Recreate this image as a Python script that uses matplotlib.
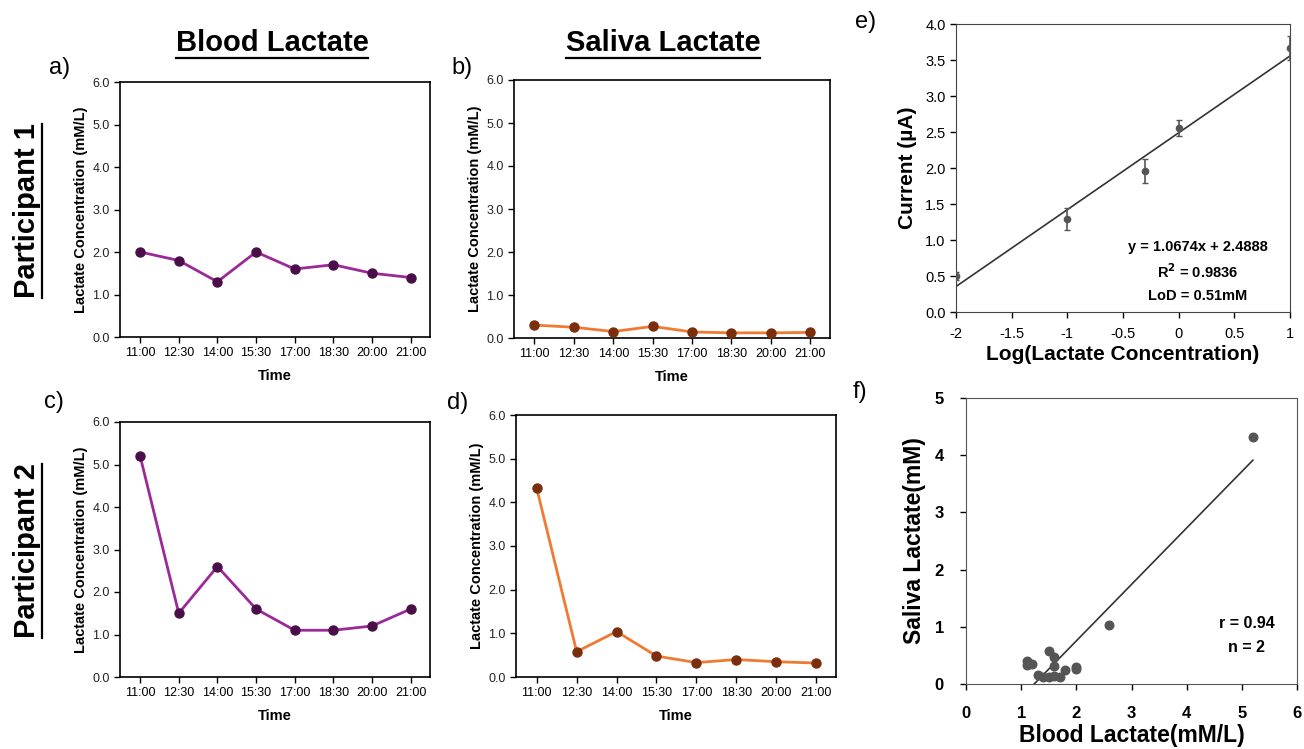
import numpy as np
import matplotlib
matplotlib.use("Agg")
import matplotlib.pyplot as plt
from matplotlib.lines import Line2D

plt.rcParams['font.family'] = ['Liberation Sans', 'DejaVu Sans']

times = ["11:00", "12:30", "14:00", "15:30", "17:00", "18:30", "20:00", "21:00"]
blood_p1 = [2.0, 1.8, 1.3, 2.0, 1.6, 1.7, 1.5, 1.4]
saliva_p1 = [0.30, 0.25, 0.15, 0.27, 0.14, 0.12, 0.12, 0.13]
blood_p2 = [5.2, 1.5, 2.6, 1.6, 1.1, 1.1, 1.2, 1.6]
saliva_p2 = [4.32, 0.58, 1.04, 0.48, 0.33, 0.40, 0.35, 0.32]

log_conc = [-2, -1, -0.3, 0, 1]
current = [0.50, 1.29, 1.96, 2.55, 3.67]
current_err = [0.05, 0.15, 0.17, 0.11, 0.17]
cal_slope, cal_icpt = 1.0674, 2.4888

W, H = 1304, 749
fig = plt.figure(figsize=(W / 100, H / 100), dpi=100)


def px_axes(l, t, r, b):
    return fig.add_axes([l / W, 1 - b / H, (r - l) / W, (b - t) / H])


def time_panel(ax, vals, line_c, mark_c):
    x = np.arange(len(times))
    ax.plot(x, vals, color=line_c, lw=2, marker="o", ms=6.5,
            mfc=mark_c, mec=mark_c, zorder=3)
    ax.set_xlim(-0.52, 7.5)
    ax.set_ylim(0, 6)
    ax.set_xticks(x)
    ax.set_xticklabels(times)
    ax.set_yticks(np.arange(0, 6.1, 1))
    ax.set_yticklabels([f"{v:.1f}" for v in np.arange(0, 6.1, 1)], color="#222222")
    ax.tick_params(axis="both", labelsize=9, length=4, width=1)
    ax.set_xlabel("Time", fontsize=10.5, fontweight="bold", labelpad=7)
    ax.set_ylabel("Lactate Concentration (mM/L)", fontsize=10.5, fontweight="bold", labelpad=3)
    for s in ax.spines.values():
        s.set_linewidth(1.2)
        s.set_color("black")


ax_a = px_axes(120, 82, 430, 337)
time_panel(ax_a, blood_p1, "#9b2a98", "#4a0f48")
ax_b = px_axes(514, 80, 830, 338)
time_panel(ax_b, saliva_p1, "#f07a32", "#7a2e0c")
ax_c = px_axes(120, 422, 430, 677)
time_panel(ax_c, blood_p2, "#9b2a98", "#4a0f48")
ax_d = px_axes(516, 415, 836, 677)
time_panel(ax_d, saliva_p2, "#f07a32", "#7a2e0c")

# e) calibration
ax_e = px_axes(956, 24, 1290, 312)
ax_e.errorbar(log_conc, current, yerr=current_err, fmt="o", color="#555555",
              ms=4.5, capsize=2, elinewidth=1.2, zorder=3)
xs = np.array([-2, 1])
ax_e.plot(xs, cal_slope * xs + cal_icpt, color="#333333", lw=1.2)
ax_e.set_xlim(-2, 1)
ax_e.set_ylim(0, 4)
ax_e.set_xticks([-2, -1.5, -1, -0.5, 0, 0.5, 1])
ax_e.set_xticklabels(["-2", "-1.5", "-1", "-0.5", "0", "0.5", "1"], fontsize=10.5)
ax_e.set_yticks(np.arange(0, 4.1, 0.5))
ax_e.set_yticklabels([f"{v:.1f}" for v in np.arange(0, 4.1, 0.5)], fontsize=10.5)
ax_e.set_xlabel("Log(Lactate Concentration)", fontsize=15, fontweight="bold", labelpad=3)
ax_e.set_ylabel("Current (µA)", fontsize=15, fontweight="bold", labelpad=6)
ax_e.tick_params(length=4, width=1)
ax_e.tick_params(axis="x", pad=7)
for s in ax_e.spines.values():
    s.set_color("#444444")
ax_e.text(0.17, 0.90, "y = 1.0674x + 2.4888", fontsize=10.5, fontweight="bold", ha="center", va="center")
ax_e.text(0.17, 0.555, "R$^\\mathbf{2}$ = 0.9836", fontsize=10.5, fontweight="bold", ha="center", va="center")
ax_e.text(0.17, 0.22, "LoD = 0.51mM", fontsize=10.5, fontweight="bold", ha="center", va="center")

# f) correlation
blood_all = np.array(blood_p1 + blood_p2)
saliva_all = np.array(saliva_p1 + saliva_p2)
ax_f = px_axes(966, 398, 1297, 684)
ax_f.scatter(blood_all, saliva_all, s=38, color="#555555", zorder=3)
m, b = np.polyfit(blood_all, saliva_all, 1)
fx = np.array([-b / m, blood_all.max()])
ax_f.plot(fx, m * fx + b, color="#333333", lw=1.2)
r = np.corrcoef(blood_all, saliva_all)[0, 1]
ax_f.set_xlim(0, 6)
ax_f.set_ylim(0, 5)
ax_f.set_xticks(range(7))
ax_f.set_yticks(range(6))
for lab in ax_f.get_xticklabels() + ax_f.get_yticklabels():
    lab.set_fontsize(12)
    lab.set_fontweight("bold")
ax_f.tick_params(length=4, width=1)
ax_f.tick_params(axis="x", pad=12)
ax_f.tick_params(axis="y", pad=12)
ax_f.set_xlabel("Blood Lactate(mM/L)", fontsize=16.5, fontweight="bold", labelpad=2)
ax_f.set_ylabel("Saliva Lactate(mM)", fontsize=16.5, fontweight="bold", labelpad=6)
for s in ax_f.spines.values():
    s.set_color("#555555")
ax_f.text(5.09, 1.05, f"r = {r:.2f}", fontsize=11.5, fontweight="bold", ha="center", va="center")
ax_f.text(5.09, 0.63, "n = 2", fontsize=11.5, fontweight="bold", ha="center", va="center")

# headers and panel letters
heads = [
    fig.text(272 / W, 1 - 43 / H, "Blood Lactate", fontsize=21, fontweight="bold", ha="center", va="center"),
    fig.text(663 / W, 1 - 43 / H, "Saliva Lactate", fontsize=21, fontweight="bold", ha="center", va="center"),
]
parts = [
    fig.text(27 / W, 1 - 211 / H, "Participant 1", fontsize=21, fontweight="bold", rotation=90, ha="center", va="center"),
    fig.text(27 / W, 1 - 551 / H, "Participant 2", fontsize=21, fontweight="bold", rotation=90, ha="center", va="center"),
]
for lab, x, y in [("a)", 60, 68), ("b)", 462, 68), ("c)", 54, 402), ("d)", 458, 403),
                  ("e)", 866, 22), ("f)", 860, 392)]:
    fig.text(x / W, 1 - y / H, lab, fontsize=17, ha="center", va="center")

# underlines
fig.canvas.draw()
rend = fig.canvas.get_renderer()
inv = fig.transFigure.inverted()
for t in heads:
    bb = t.get_window_extent(rend).transformed(inv)
    fig.add_artist(Line2D([bb.x0, bb.x1], [bb.y0 - 0.001, bb.y0 - 0.001], color="black", lw=1.6,
                          transform=fig.transFigure))
for t in parts:
    bb = t.get_window_extent(rend).transformed(inv)
    fig.add_artist(Line2D([bb.x1 + 0.001, bb.x1 + 0.001], [bb.y0, bb.y1], color="black", lw=1.6,
                          transform=fig.transFigure))

fig.savefig("out.png", dpi=100, facecolor="white")
